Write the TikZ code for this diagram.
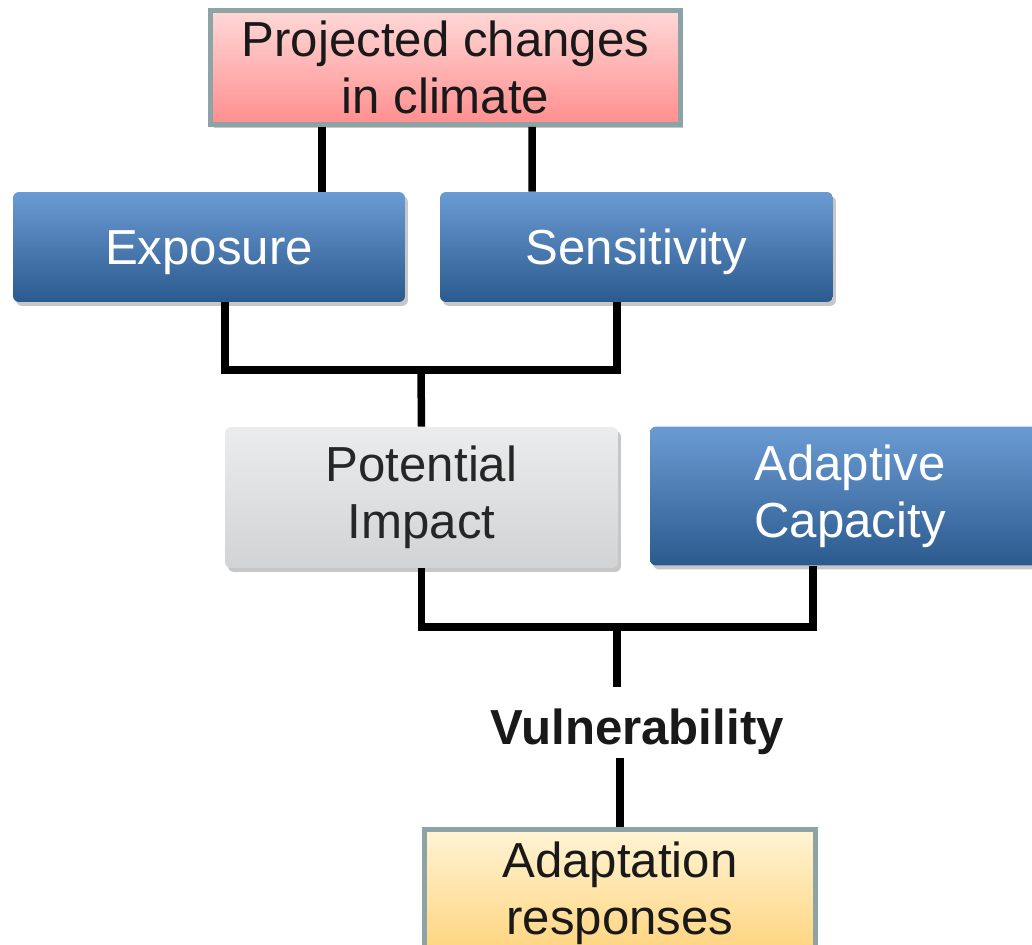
\documentclass[tikz,border=0pt]{standalone}
\usepackage{fontspec}
\setmainfont{Liberation Sans}
\usetikzlibrary{calc,shadows}
% Couleurs
\definecolor{bleuhaut}{HTML}{6A9BD3}
\definecolor{bleubas}{HTML}{2B5A8E}
\definecolor{grishaut}{HTML}{EBECEE}
\definecolor{grisbas}{HTML}{D2D3D5}
\definecolor{rosehaut}{HTML}{FFD8D8}
\definecolor{rosebas}{HTML}{FF8E8E}
\definecolor{jaunehaut}{HTML}{FFF4D4}
\definecolor{jaunebas}{HTML}{FFD37C}
\definecolor{bordure}{HTML}{8EA3A6}
\begin{document}
\begin{tikzpicture}[x=0.02cm,y=-0.02cm]
	% Styles
	\tikzstyle{lien}=[-,line width=0.15cm,black]
	\tikzstyle{ombre}=[drop shadow={shadow xshift=0.06cm,shadow yshift=-0.08cm,opacity=0.22,fill=black}]
	\tikzstyle{texte}=[align=center,font=\fontsize{28}{32.5}\selectfont]
	\tikzstyle{cadre}=[texte,ombre,draw=bordure,line width=0.1cm,text=black!90]
	\tikzstyle{bleu}=[texte,ombre,rounded corners=3.4pt,top color=bleuhaut,bottom color=bleubas,text=white]
	\tikzstyle{gris}=[texte,ombre,rounded corners=3.4pt,top color=grishaut,bottom color=grisbas,text=black!85]
	% Cadre
	\path[use as bounding box,clip] (0,0) rectangle (1032,945);
	% Noeuds
	\node[cadre,top color=rosehaut,bottom color=rosebas,minimum width=9.4cm,minimum height=2.28cm] (climat) at (445.5,67.5) {Projected changes\\in climate};
	\node[bleu,minimum width=7.84cm,minimum height=2.2cm,text height=0.92cm] (expo) at (209,247) {Exposure};
	\node[bleu,minimum width=7.86cm,minimum height=2.2cm,text height=0.92cm] (sens) at (636.5,247) {Sensitivity};
	\node[gris,minimum width=7.86cm,minimum height=2.82cm] (impact) at (421.5,497.5) {Potential\\Impact};
	\node[bleu,minimum width=8cm,minimum height=2.78cm] (adapt) at (850,496) {Adaptive\\Capacity};
	\node[texte,font=\fontsize{28}{32.5}\selectfont\bfseries,inner sep=0pt,text=black!90] (vuln) at (637,732) {Vulnerability};
	\node[cadre,top color=jaunehaut,bottom color=jaunebas,minimum width=7.82cm,minimum height=2.54cm] (resp) at (620,893) {Adaptation\\responses};
	% Jonctions
	\coordinate (j1) at (421,370);
	\coordinate (j2) at (617,627);
	% Liens
	\draw[lien] ($(climat.south)+(-123.5,0)$) -- ($(expo.north)+(113,0)$);
	\draw[lien] ($(climat.south)+(86.5,0)$) -- ($(sens.north)+(-104.5,0)$);
	\draw[lien] ($(expo.south)+(16,0)$) |- (j1) -| ($(sens.south)+(-19.5,0)$);
	\draw[lien] (j1) -- (impact.north);
	\draw[lien] (impact.south) |- (j2) -| ($(adapt.south)+(-37,0)$);
	\draw[lien] (j2) -- ($(j2 |- vuln.north)+(0,-22)$);
	\draw[lien] ($(vuln.south -| resp.north)+(0,3)$) -- (resp.north);
\end{tikzpicture}
\end{document}
